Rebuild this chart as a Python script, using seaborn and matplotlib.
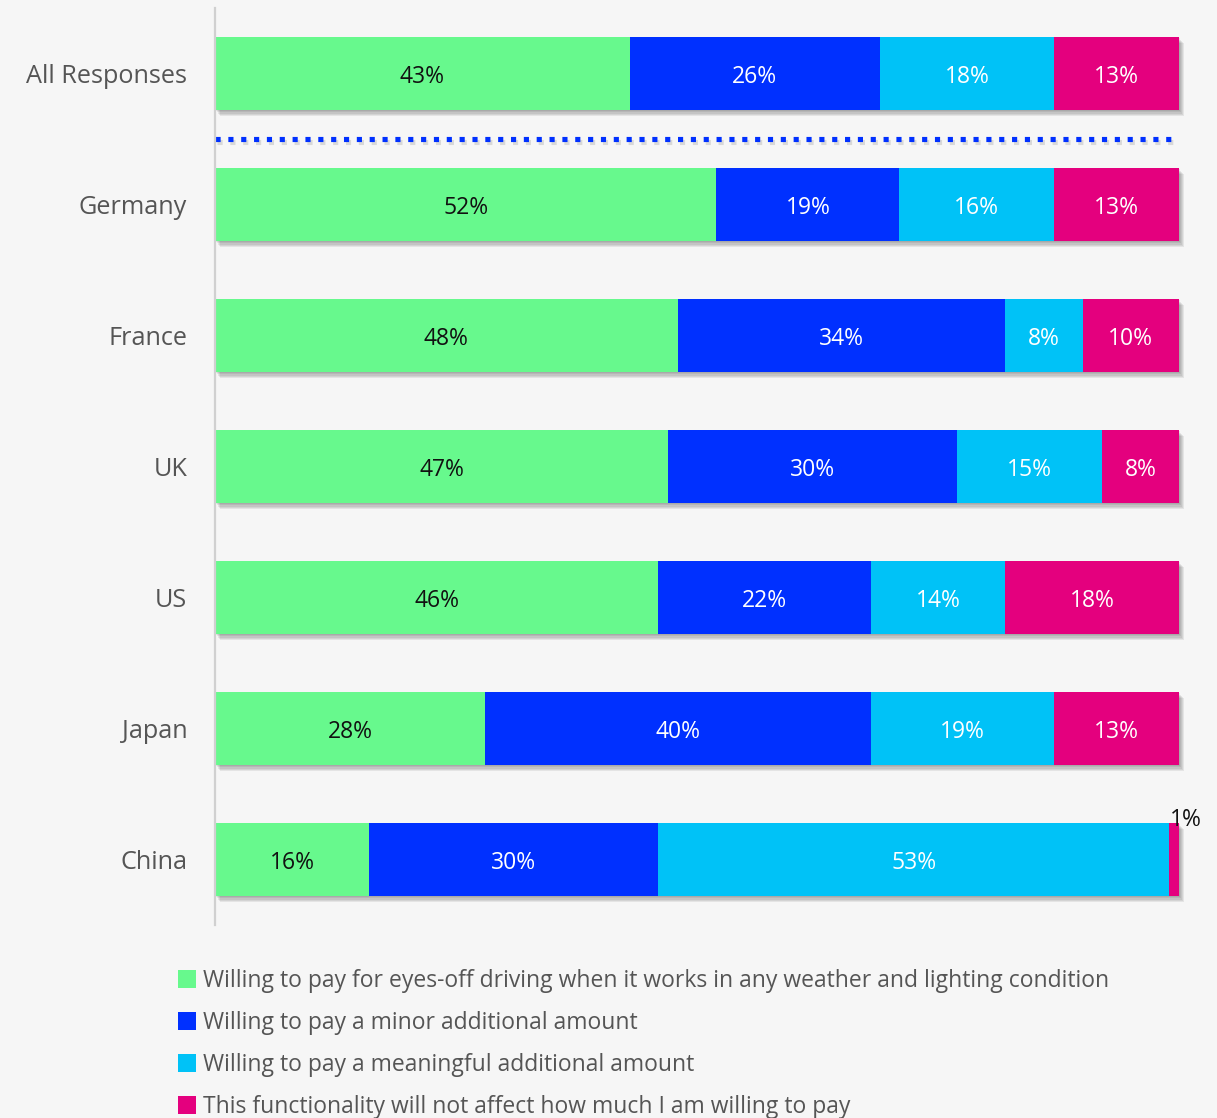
import matplotlib
matplotlib.use("Agg")
import matplotlib.pyplot as plt
import matplotlib.patheffects as pe
from matplotlib.patches import Patch
import seaborn as sns
import pandas as pd
import numpy as np

categories = ["All Responses", "Germany", "France", "UK", "US", "Japan", "China"]
series_names = [
    "Willing to pay for eyes-off driving when it works in any weather and lighting condition",
    "Willing to pay a minor additional amount",
    "Willing to pay a meaningful additional amount",
    "This functionality will not affect how much I am willing to pay",
]
eyes_off = [43, 52, 48, 47, 46, 28, 16]
minor = [26, 19, 34, 30, 22, 40, 30]
meaningful = [18, 16, 8, 15, 14, 19, 53]
no_effect = [13, 13, 10, 8, 18, 13, 1]

colors = ["#67F98D", "#0030FF", "#00C2F7", "#E4007E"]
label_colors = ["#111111", "white", "white", "white"]
bg = "#F6F6F6"

sns.set_theme(style="white")
plt.rcParams["font.family"] = ["Open Sans", "DejaVu Sans"]

fig = plt.figure(figsize=(12.17, 11.18), dpi=100, facecolor=bg)
W, H = 1217, 1118
x0_px, x100_px = 215, 1179
px_per_unit = (x100_px - x0_px) / 100.0
ax_right_px = 1217
ax_top_px, ax_bot_px = 8, 925
ax = fig.add_axes([x0_px / W, 1 - ax_bot_px / H, (ax_right_px - x0_px) / W,
                   (ax_bot_px - ax_top_px) / H])
ax.set_facecolor(bg)

values = [eyes_off, minor, meaningful, no_effect]
cum = np.cumsum(np.array(values), axis=0)

# Stack by drawing cumulative totals from the longest layer down
for i in reversed(range(len(values))):
    df = pd.DataFrame({"category": categories, "cum": cum[i]})
    n_before = len(ax.patches)
    sns.barplot(data=df, x="cum", y="category", orient="h", color=colors[i],
                width=0.555, linewidth=0, saturation=1, ax=ax)
    if i == len(values) - 1:
        shadow = [pe.SimplePatchShadow(offset=(k * 0.7, -k * 0.9),
                                       shadow_rgbFace="black", alpha=0.07)
                  for k in range(1, 6)]
        for p in ax.patches[n_before:]:
            p.set_path_effects(shadow + [pe.Normal()])

# Segment labels
for i, vals in enumerate(values):
    for j, v in enumerate(vals):
        left = cum[i][j] - v
        if v >= 5:
            ax.text(left + v / 2, j + 0.03, f"{v}%", ha="center", va="center",
                    fontsize=16.5, color=label_colors[i])
        else:
            ax.text(cum[i][j] + 0.7, j - 0.30, f"{v}%", ha="center",
                    va="center", fontsize=16.5, color="#111111")

# Separator between the overall result and the countries
ax.plot([0, 99.3], [0.5, 0.5], color="#0030FF", lw=3.7,
        linestyle=(0, (1, 1.5)), dash_capstyle="butt",
        path_effects=[pe.SimpleLineShadow(offset=(1.5, -2.5), alpha=0.12,
                                          shadow_color="black"),
                      pe.Normal()])

ax.set_xlim(0, (ax_right_px - x0_px) / px_per_unit)
ax.set_ylim(6.5, -0.5)
ax.set_xlabel("")
ax.set_ylabel("")
ax.set_xticks([])
for s in ["top", "right", "bottom"]:
    ax.spines[s].set_visible(False)
ax.spines["left"].set_color("#D0D0D0")
ax.spines["left"].set_linewidth(1.6)
ax.tick_params(axis="y", length=0, pad=20, labelsize=18.2, labelcolor="#555555")

handles = [Patch(facecolor=c, edgecolor="none") for c in colors]
fig.legend(handles, series_names, loc="upper left",
           bbox_to_anchor=(178 / W, 1 - 969 / H), frameon=False,
           fontsize=16.45, labelcolor="#555555", handlelength=0.8,
           handleheight=0.8, handletextpad=0.3, labelspacing=0.79,
           borderpad=0, borderaxespad=0)

fig.savefig("out.png", dpi=100, facecolor=bg)
